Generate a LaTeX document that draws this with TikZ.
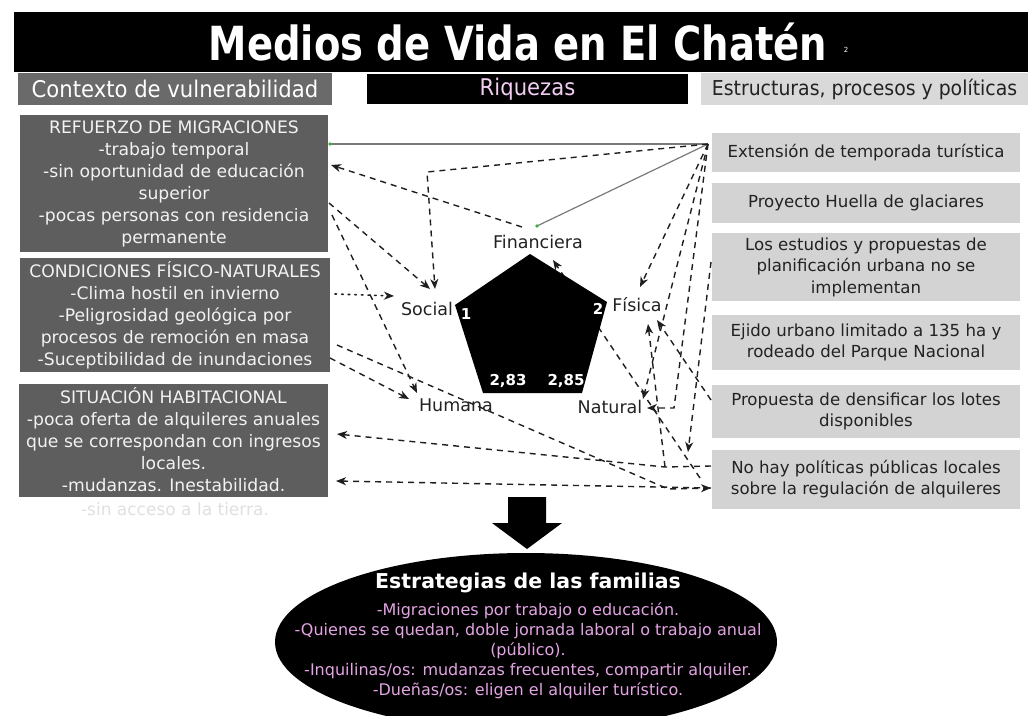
\documentclass[tikz,border=0pt]{standalone}
\usepackage{fontspec}
\setmainfont{DejaVu Sans}
\newfontfamily\condfont[FakeStretch=0.92]{DejaVu Sans}
\newfontfamily\titlefont[FakeStretch=0.82]{DejaVu Sans}
\usetikzlibrary{arrows.meta,shapes.geometric}
\definecolor{lboxc}{HTML}{5E5E5E}
\definecolor{lhead}{HTML}{6A6A6A}
\definecolor{rboxc}{HTML}{D3D3D3}
\definecolor{rhead}{HTML}{D9D9D9}
\definecolor{lboxtext}{HTML}{F2F2F2}
\definecolor{darktext}{HTML}{222222}
\definecolor{pinktext}{HTML}{F2CDF2}
\definecolor{plumtext}{HTML}{E4A4E4}
\definecolor{solidline}{HTML}{7A7A7A}
\definecolor{dotgreen}{HTML}{3FAF3F}
\tikzset{
  lbox/.style={fill=lboxc, text=lboxtext, inner sep=0pt, align=center,
    font=\fontsize{17.2}{22}\selectfont},
  rbox/.style={fill=rboxc, text=darktext, inner sep=0pt, align=center,
    minimum width=308pt, font=\fontsize{16.6}{21.5}\selectfont},
  headbox/.style={inner sep=0pt, font=\condfont\fontsize{23}{26}\selectfont},
  plabel/.style={text=darktext, inner sep=0pt, font=\fontsize{17.5}{20}\selectfont},
  pnum/.style={text=white, inner sep=0pt, font=\bfseries\fontsize{15}{17}\selectfont},
  tip/.style={-{Stealth[length=10pt,width=8pt,inset=3pt]}},
  conn/.style={draw=black!88, line width=1.4pt, dash pattern=on 6pt off 5pt, tip},
  dotconn/.style={draw=black!88, line width=1.6pt, dash pattern=on 1.6pt off 5pt, line cap=round, tip},
  solidconn/.style={draw=solidline, line width=1.2pt},
  gdot/.style={fill=dotgreen},
}
\begin{document}
\begin{tikzpicture}[x=1pt,y=-1pt]
\useasboundingbox (0,0) rectangle (1028,715);
\fill[white] (0,0) rectangle (1028,715);

% ---- title
\fill[black] (14,12) rectangle (1028,72);
\node[text=white, inner sep=0pt, font=\titlefont\bfseries\fontsize{47}{50}\selectfont] (title) at (518,42) {Medios de Vida en El Chatén};
\node[text=white, inner sep=0pt, font=\fontsize{7}{8}\selectfont] (titlenum) at (846,50) {2};

% ---- header row
\node[headbox, fill=lhead, text=white, minimum width=314pt, minimum height=32pt] (hleft) at (175,89) {Contexto de vulnerabilidad};
\node[headbox, fill=black, text=pinktext, minimum width=321pt, minimum height=30pt] (hmid) at (527.5,89) {Riquezas};
\node[headbox, fill=rhead, text=darktext, minimum width=327pt, minimum height=32pt, font=\condfont\fontsize{20.5}{24}\selectfont] (hright) at (864.5,89) {Estructuras, procesos y políticas};

% ---- left boxes
\node[lbox, minimum width=308pt, minimum height=137pt] (box1) at (174,183.5)
  {REFUERZO DE MIGRACIONES\\-trabajo temporal\\-sin oportunidad de educación\\superior\\-pocas personas con residencia\\permanente};
\node[lbox, minimum width=310pt, minimum height=114pt] (box2) at (175,315)
  {CONDICIONES FÍSICO-NATURALES\\-Clima hostil en invierno\\-Peligrosidad geológica por\\procesos de remoción en masa\\-Suceptibilidad de inundaciones};
\node[lbox, minimum width=309pt, minimum height=113pt] (box3) at (173.5,440)
  {SITUACIÓN HABITACIONAL\\-poca oferta de alquileres anuales\\que se correspondan con ingresos\\locales.\\-mudanzas. Inestabilidad.};
\node[text=black!12, inner sep=0pt, font=\fontsize{17}{20}\selectfont] (ghost) at (175,509) {-sin acceso a la tierra.};

% ---- right boxes
\node[rbox, minimum height=39pt] (r1) at (866,152.5) {Extensión de temporada turística};
\node[rbox, minimum height=40pt] (r2) at (866,202.5) {Proyecto Huella de glaciares};
\node[rbox, minimum height=68pt] (r3) at (866,267) {Los estudios y propuestas de\\planificación urbana no se\\implementan};
\node[rbox, minimum height=55pt] (r4) at (866,342.5) {Ejido urbano limitado a 135 ha y\\rodeado del Parque Nacional};
\node[rbox, minimum height=53pt] (r5) at (866,411.5) {Propuesta de densificar los lotes\\disponibles};
\node[rbox, minimum height=59pt] (r6) at (866,479) {No hay políticas públicas locales\\sobre la regulación de alquileres};

% ---- connector end points
\coordinate (hub) at (708,144);
\coordinate (b1a) at (330,144);
\coordinate (fintop) at (537,226);
\coordinate (corner1) at (427,172);
\coordinate (socN) at (435,289);
\coordinate (finW) at (522,227);
\coordinate (b1b) at (331,165);
\coordinate (b1c) at (329,203);
\coordinate (socNW) at (430,289);
\coordinate (b1d) at (332,215);
\coordinate (humN) at (417,393);
\coordinate (b2a) at (335,294);
\coordinate (socW) at (394,296);
\coordinate (b2b) at (330,358);
\coordinate (humW) at (409,399);
\coordinate (b2c) at (337,345);
\coordinate (x6) at (668,489);
\coordinate (r6a) at (711,488);
\coordinate (b3a) at (336,481);
\coordinate (j6) at (665,467);
\coordinate (r6c) at (711,466);
\coordinate (b3b) at (337,434);
\coordinate (fisS1) at (648,324);
\coordinate (fisN) at (640,287);
\coordinate (natE) at (674,408);
\coordinate (natE2) at (647,408);
\coordinate (natNE) at (643,399);
\coordinate (r5a) at (711,400);
\coordinate (fisS2) at (657,320);
\coordinate (r6b) at (700,478);
\coordinate (finSE) at (553,260);
\coordinate (r3a) at (711,262);
\coordinate (lowv) at (688,452);

% ---- connectors
\draw[solidconn] (b1a) -- (hub);
\draw[solidconn] (hub) -- (fintop);
\fill[gdot] (b1a) circle (1.8pt);
\fill[gdot] (fintop) circle (1.8pt);
\draw[conn] (hub) -- (corner1) -- (socN);
\draw[conn] (finW) -- (b1b);
\draw[conn] (b1c) -- (socNW);
\draw[conn] (b1d) -- (humN);
\draw[dotconn] (b2a) -- (socW);
\draw[conn] (b2b) -- (humW);
\draw[conn] (b2c) -- (x6) -- (r6a);
\draw[conn] (r6a) -- (b3a);
\draw[conn] (r6c) -- (j6) -- (b3b);
\draw[conn] (j6) -- (fisS1);
\draw[conn] (hub) -- (fisN);
\draw[conn] (hub) -- (natE) -- (natE2);
\draw[conn] (hub) -- (natNE);
\draw[conn] (r5a) -- (fisS2);
\draw[conn] (r6b) -- (finSE);
\draw[conn] (r3a) -- (lowv);

% ---- pentagon
\fill[black] (530,254) -- (607,302) -- (582,393) -- (483,393) -- (455,305) -- cycle;
\node[pnum] (n1) at (466,314) {1};
\node[pnum] (n2) at (598,309) {2};
\node[pnum] (n283) at (508,381) {2,83};
\node[pnum] (n285) at (566,381) {2,85};

\node[plabel] (fin) at (538,242) {Financiera};
\node[plabel] (soc) at (427,309) {Social};
\node[plabel] (fis) at (637,305) {Física};
\node[plabel] (hum) at (456,405) {Humana};
\node[plabel] (nat) at (610,407) {Natural};

% ---- big arrow
\fill[black] (508,497) -- (546,497) -- (546,523) -- (562,523) -- (527,549) -- (492,523) -- (508,523) -- cycle;

% ---- strategies ellipse
\node[ellipse, fill=black, minimum width=502pt, minimum height=178pt, inner sep=0pt] (strat) at (526,642) {};
\node[text=white, inner sep=0pt, font=\bfseries\fontsize{20.5}{22}\selectfont] (strattitle) at (528,583) {Estrategias de las familias};
\node[text=plumtext, inner sep=0pt, align=center, font=\fontsize{16}{20}\selectfont] (strattext) at (528,651)
  {-Migraciones por trabajo o educación.\\-Quienes se quedan, doble jornada laboral o trabajo anual\\(público).\\-Inquilinas/os: mudanzas frecuentes, compartir alquiler.\\-Dueñas/os: eligen el alquiler turístico.};
\end{tikzpicture}
\end{document}
